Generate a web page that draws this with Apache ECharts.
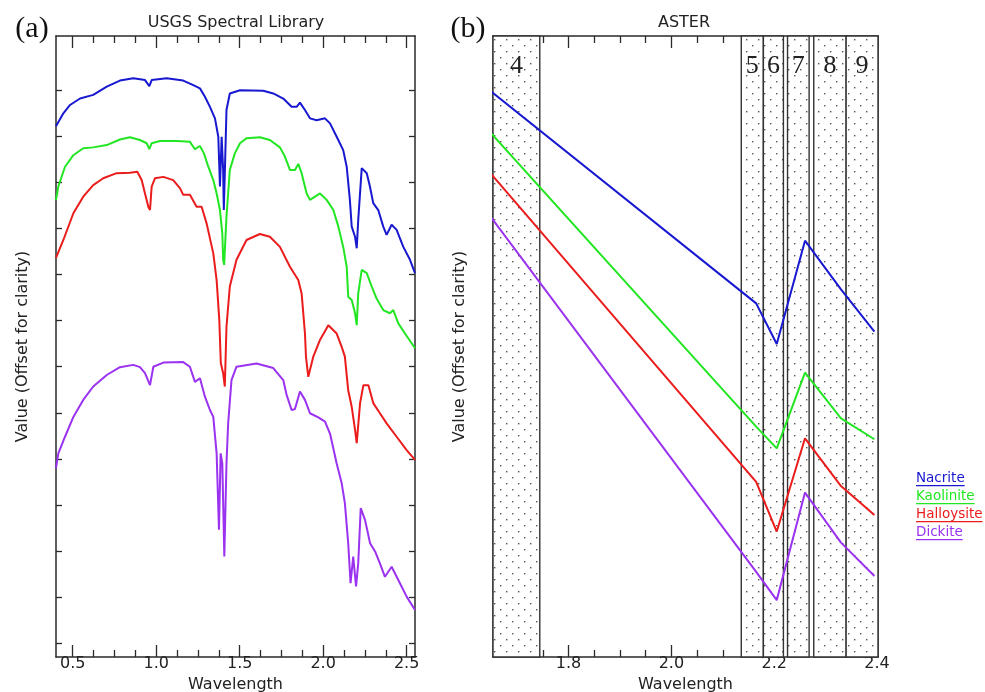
<!DOCTYPE html>
<html>
<head>
<meta charset="utf-8">
<script src="https://cdn.jsdelivr.net/npm/echarts@6/dist/echarts.min.js"></script>
<style>html,body{margin:0;padding:0;background:#fff;}#chart{width:985px;height:692px;}</style>
</head>
<body>
<div id="chart"></div>
<script>
// ---------- DATA ----------
const seriesNames = ['Nacrite', 'Kaolinite', 'Halloysite', 'Dickite'];

// USGS library spectra (wavelength in µm, value offset for clarity)
const nacriteWl = [0.40,0.444,0.484,0.544,0.623,0.704,0.783,0.863,0.933,0.959,0.973,1.063,1.162,1.222,1.262,1.292,1.322,1.352,1.372,1.382,1.392,1.401,1.405,1.411,1.421,1.441,1.502,1.641,1.701,1.761,1.811,1.841,1.861,1.891,1.921,1.961,2.011,2.041,2.081,2.120,2.141,2.160,2.171,2.191,2.201,2.210,2.231,2.261,2.280,2.300,2.330,2.360,2.380,2.410,2.440,2.480,2.520,2.550];
const nacriteVal = [11.52,11.80,11.98,12.12,12.20,12.38,12.51,12.56,12.52,12.39,12.52,12.56,12.51,12.41,12.34,12.16,11.94,11.69,11.29,10.21,11.29,10.57,9.70,10.50,11.87,12.23,12.30,12.29,12.23,12.12,11.94,11.94,12.03,11.87,11.69,11.65,11.69,11.58,11.29,11.00,10.64,9.92,9.34,9.12,8.87,9.48,10.61,10.50,10.21,9.85,9.70,9.34,9.16,9.38,9.27,8.90,8.62,8.33];

const kaoliniteWl = [0.40,0.414,0.454,0.504,0.563,0.623,0.704,0.783,0.843,0.903,0.943,0.959,0.973,1.023,1.123,1.202,1.232,1.262,1.286,1.312,1.342,1.362,1.382,1.396,1.401,1.407,1.421,1.441,1.471,1.502,1.542,1.621,1.681,1.741,1.771,1.801,1.831,1.851,1.871,1.901,1.921,1.951,1.981,2.021,2.061,2.091,2.120,2.141,2.150,2.171,2.191,2.201,2.210,2.231,2.261,2.291,2.320,2.360,2.400,2.420,2.450,2.490,2.530,2.550];
const kaoliniteVal = [9.92,10.21,10.64,10.89,11.04,11.06,11.11,11.23,11.28,11.22,11.15,11.02,11.15,11.20,11.20,11.18,11.02,11.09,10.93,10.64,10.35,10.06,9.70,9.19,8.62,8.51,9.56,10.57,10.93,11.15,11.26,11.28,11.22,11.06,10.86,10.57,10.57,10.70,10.50,10.06,9.92,9.99,10.06,9.92,9.70,9.34,8.90,8.47,7.82,7.75,7.46,7.20,7.89,8.40,8.33,8.04,7.78,7.53,7.46,7.53,7.24,7.02,6.81,6.70];

const halloysiteWl = [0.40,0.444,0.504,0.563,0.623,0.683,0.763,0.843,0.887,0.913,0.933,0.953,0.963,0.973,0.993,1.043,1.102,1.143,1.162,1.202,1.242,1.272,1.302,1.342,1.362,1.378,1.387,1.401,1.411,1.421,1.441,1.481,1.541,1.621,1.681,1.741,1.801,1.851,1.871,1.891,1.897,1.911,1.941,1.981,2.031,2.081,2.111,2.130,2.150,2.171,2.191,2.201,2.221,2.241,2.271,2.300,2.340,2.380,2.440,2.500,2.550];
const halloysiteVal = [8.66,9.05,9.63,9.99,10.24,10.39,10.50,10.51,10.53,10.35,10.06,9.77,9.70,10.21,10.39,10.42,10.35,10.17,10.03,10.03,9.77,9.77,9.41,8.76,8.18,7.31,6.38,6.16,5.87,7.17,8.04,8.62,9.05,9.18,9.12,8.90,8.47,8.18,7.89,7.02,6.52,6.08,6.52,6.88,7.20,7.02,6.73,6.52,5.79,5.43,4.93,4.64,5.51,5.90,5.90,5.51,5.29,5.07,4.78,4.49,4.28];

const dickiteWl = [0.40,0.414,0.454,0.504,0.563,0.623,0.704,0.783,0.863,0.903,0.933,0.963,0.983,1.043,1.162,1.202,1.232,1.262,1.292,1.322,1.342,1.362,1.376,1.386,1.396,1.408,1.421,1.431,1.451,1.481,1.601,1.701,1.761,1.781,1.811,1.831,1.861,1.891,1.921,1.971,2.011,2.041,2.081,2.111,2.130,2.150,2.164,2.180,2.197,2.210,2.225,2.251,2.281,2.311,2.340,2.370,2.410,2.450,2.500,2.550];
const dickiteVal = [4.10,4.42,4.78,5.21,5.58,5.87,6.12,6.29,6.34,6.29,6.16,5.90,6.30,6.39,6.40,6.30,5.97,6.05,5.65,5.36,5.21,4.42,2.76,4.42,4.20,2.18,4.20,5.07,6.01,6.30,6.37,6.27,6.01,5.69,5.36,5.38,5.76,5.58,5.29,5.20,5.11,4.85,4.20,3.77,3.34,2.47,1.60,2.18,1.53,2.03,3.23,2.97,2.47,2.29,2.03,1.74,1.96,1.67,1.31,1.02];

// ASTER resampled (band centres)
const asterCenters = [1.65, 2.165, 2.205, 2.26, 2.33, 2.395];
const nacriteAster = [17.39, 10.88, 9.63, 12.81, 11.31, 10.01];
const kaoliniteAster = [16.10, 7.09, 6.42, 8.75, 7.34, 6.70];
const halloysiteAster = [14.85, 5.39, 3.86, 6.73, 5.26, 4.37];
const dickiteAster = [13.51, 2.62, 1.75, 5.06, 3.52, 2.49];

// ASTER bands (visible extents)
const bandLabels = ['4', '5', '6', '7', '8', '9'];
const bandStart = [1.653, 2.136, 2.179, 2.226, 2.277, 2.340];
const bandEnd   = [1.744, 2.179, 2.218, 2.268, 2.340, 2.402];

// ticks
const leftXMajor = [0.5, 1.0, 1.5, 2.0, 2.5];
const leftXMinor = [0.625,0.75,0.875,1.125,1.25,1.375,1.625,1.75,1.875,2.125,2.25,2.375];
const leftYTicks = [0.3,1.3,2.3,3.3,4.3,5.3,6.3,7.3,8.3,9.3,10.3,11.3,12.3];
const rightXMajor = [1.8, 2.0, 2.2, 2.4];
const rightXMinor = [1.7,1.75,1.85,1.9,1.95,2.05,2.1,2.15,2.25,2.3,2.35];
const rightYTicks = [0.44,1.44,2.44,3.44,4.44,5.44,6.44,7.44,8.44,9.44,10.44,11.44,12.44,13.44,14.44,15.44,16.44,17.44];

const colors = ['#1818d0', '#22e622', '#ea1c1c', '#9a32f0'];

// ---------- CHART ----------
const FONT = 'DejaVu Sans';
const AX = '#2a2a2a';
const chart = echarts.init(document.getElementById('chart'));

const pc = document.createElement('canvas');
pc.width = 12; pc.height = 12;
const pctx = pc.getContext('2d');
pctx.fillStyle = '#fff'; pctx.fillRect(0, 0, 12, 12);
pctx.fillStyle = '#555';
pctx.fillRect(2, 3, 1.4, 1.4);
pctx.fillRect(8, 9, 1.4, 1.4);

const L = { min: 0.4, max: 2.55 };
const R = { min: 1.653, max: 2.402 };

function xAx(grid, range, pos, ticks, len, showLine, labels, name) {
  return {
    type: 'value', gridIndex: grid, position: pos, min: range.min, max: range.max,
    splitLine: { show: false },
    axisLine: { show: showLine, onZero: false, lineStyle: { color: AX, width: 1.5 } },
    axisTick: { show: true, inside: true, length: len, customValues: ticks, lineStyle: { color: AX, width: 1.3 } },
    axisLabel: labels ? { show: true, customValues: ticks, formatter: v => v.toFixed(1), fontFamily: FONT, fontSize: 16, color: '#222', margin: -1 } : { show: false },
    name: name || '', nameLocation: 'middle', nameGap: 13,
    nameTextStyle: { fontFamily: FONT, fontSize: 16, color: '#222' }
  };
}
function yAx(grid, max, pos, ticks, name) {
  return {
    type: 'value', gridIndex: grid, position: pos, min: 0, max: max,
    splitLine: { show: false },
    axisLine: { show: true, onZero: false, lineStyle: { color: AX, width: 1.5 } },
    axisTick: { show: true, inside: true, length: 6, customValues: ticks, lineStyle: { color: AX, width: 1.3 } },
    axisLabel: { show: false },
    name: name || '', nameLocation: 'middle', nameGap: 25, nameRotate: 90,
    nameTextStyle: { fontFamily: FONT, fontSize: 16, color: '#222' }
  };
}

const leftSets = [[nacriteWl, nacriteVal], [kaoliniteWl, kaoliniteVal], [halloysiteWl, halloysiteVal], [dickiteWl, dickiteVal]];
const asterSets = [nacriteAster, kaoliniteAster, halloysiteAster, dickiteAster];

const series = [];
leftSets.forEach((s, i) => {
  series.push({
    type: 'line', name: seriesNames[i], xAxisIndex: 0, yAxisIndex: 0,
    data: s[0].map((w, k) => [w, s[1][k]]),
    symbol: 'none', lineStyle: { color: colors[i], width: 2 }, itemStyle: { color: colors[i] },
    z: 5, clip: true, animation: false
  });
});
series.push({
  type: 'line', name: 'bands', xAxisIndex: 4, yAxisIndex: 2, data: [], silent: true, animation: false,
  markArea: {
    silent: true, z: 1,
    itemStyle: { color: { image: pc, repeat: 'repeat' }, borderColor: '#333', borderWidth: 1.4 },
    label: { show: true, position: 'insideTop', distance: 18, fontFamily: 'Liberation Serif', fontSize: 26, color: '#222' },
    data: bandLabels.map((b, i) => [{ name: b, xAxis: bandStart[i] }, { xAxis: bandEnd[i] }])
  }
});
asterSets.forEach((v, i) => {
  series.push({
    type: 'line', name: seriesNames[i] + ' ASTER', xAxisIndex: 4, yAxisIndex: 2,
    data: asterCenters.map((c, k) => [c, v[k]]),
    symbol: 'none', lineStyle: { color: colors[i], width: 2 }, itemStyle: { color: colors[i] },
    z: 5, clip: true, animation: false
  });
});

// legend (underlined coloured text)
const LFONT = '13.5px "' + FONT + '"';
const mctx = document.createElement('canvas').getContext('2d');
mctx.font = LFONT;
const legendEls = [];
seriesNames.forEach((n, i) => {
  const y = 478 + i * 18;
  const w = mctx.measureText(n).width;
  legendEls.push({ type: 'text', x: 916, y: y, style: { text: n, fill: colors[i], font: LFONT, verticalAlign: 'middle', align: 'left' } });
  legendEls.push({ type: 'rect', shape: { x: 916, y: y + 7, width: w, height: 1.3 }, style: { fill: colors[i] } });
});

const option = {
  backgroundColor: '#fff',
  animation: false,
  grid: [
    { left: 56, top: 36, width: 359, height: 621, containLabel: false, outerBoundsMode: 'none' },
    { left: 493, top: 36, width: 385, height: 621, containLabel: false, outerBoundsMode: 'none' }
  ],
  xAxis: [
    xAx(0, L, 'bottom', leftXMajor, 12, true, true, 'Wavelength'),
    xAx(0, L, 'bottom', leftXMinor, 7, false, false),
    xAx(0, L, 'top', leftXMajor, 12, true, false),
    xAx(0, L, 'top', leftXMinor, 7, false, false),
    xAx(1, R, 'bottom', rightXMajor, 12, true, true, 'Wavelength'),
    xAx(1, R, 'bottom', rightXMinor, 7, false, false),
    xAx(1, R, 'top', rightXMajor, 12, true, false),
    xAx(1, R, 'top', rightXMinor, 7, false, false)
  ],
  yAxis: [
    yAx(0, 13.477, 'left', leftYTicks, 'Value (Offset for clarity)'),
    yAx(0, 13.477, 'right', leftYTicks),
    yAx(1, 19.108, 'left', rightYTicks, 'Value (Offset for clarity)'),
    yAx(1, 19.108, 'right', rightYTicks)
  ],
  graphic: [
    { type: 'text', x: 32, y: 29, style: { text: '(a)', font: '30px "Liberation Serif"', fill: '#111', align: 'center', verticalAlign: 'middle' } },
    { type: 'text', x: 468, y: 29, style: { text: '(b)', font: '30px "Liberation Serif"', fill: '#111', align: 'center', verticalAlign: 'middle' } },
    { type: 'text', x: 236, y: 23, style: { text: 'USGS Spectral Library', font: '16px "' + FONT + '"', fill: '#222', align: 'center', verticalAlign: 'middle' } },
    { type: 'text', x: 684, y: 23, style: { text: 'ASTER', font: '16px "' + FONT + '"', fill: '#222', align: 'center', verticalAlign: 'middle' } }
  ].concat(legendEls),
  series: series
};
chart.setOption(option);
</script>
</body>
</html>
